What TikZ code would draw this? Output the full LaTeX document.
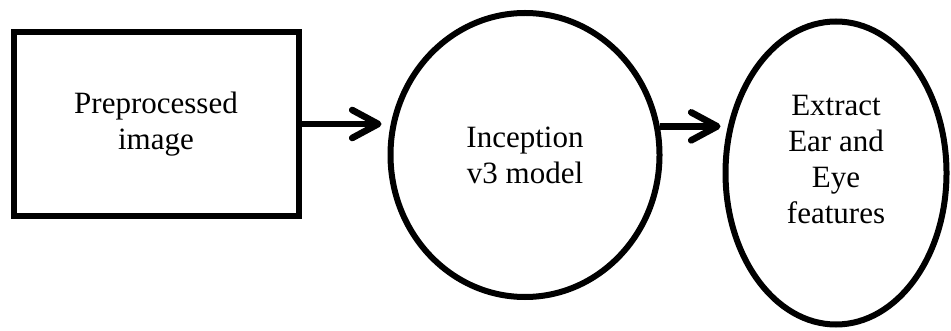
\documentclass[tikz,border=0pt]{standalone}
\usepackage{fontspec}
\setmainfont{Liberation Serif}
\usetikzlibrary{arrows.meta, shapes.geometric, positioning}
\tikzstyle{block} = [draw, line width=3pt, align=center, font=\fontsize{15.5}{18}\selectfont]
\tikzstyle{flow} = [line width=3.3pt, -{Straight Barb[length=13pt,width=14pt,line cap=round,line join=round]}]

\begin{document}
\begin{tikzpicture}[x=0.5pt,y=-0.5pt]
    \useasboundingbox (0,0) rectangle (951,331);

    % Stages
    \node[block, rectangle, minimum width=142.5pt, minimum height=92pt] (prep) at (156,124) {Preprocessed\\image};
    \node[block, ellipse, inner sep=0pt, minimum width=134.5pt, minimum height=142pt] (incep) at (525,155) {Inception\\v3 model};
    \node[block, ellipse, inner sep=0pt, text depth=14pt, minimum width=110.5pt, minimum height=151.5pt] (extract) at (836,173) {Extract\\Ear and\\Eye\\features};

    % Arrows
    \draw[flow, shorten >=3pt] (prep.east) -- (prep.east -| incep.west);
    \draw[flow, shorten >=1pt] (incep.12) -- (incep.12 -| extract.west);
\end{tikzpicture}
\end{document}
